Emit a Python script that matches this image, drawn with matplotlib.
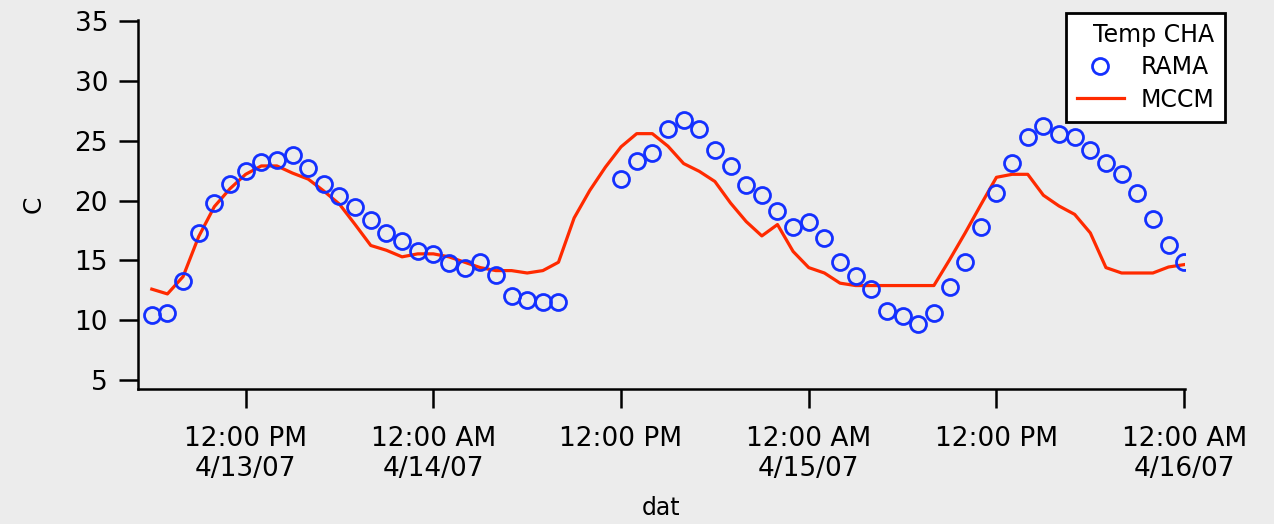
import numpy as np
import pandas as pd
import matplotlib
matplotlib.use("Agg")
import matplotlib.pyplot as plt
import matplotlib.dates as mdates
from matplotlib.lines import Line2D

# hourly timestamps, 4/13/07 06:00 to 4/16/07 00:00
times = pd.date_range("2007-04-13 06:00", "2007-04-16 00:00", freq="h")

# RAMA observations (gap from 09:00 to 11:00 on 4/14)
rama = [10.4, 10.6, 13.3, 17.3, 19.8, 21.35, 22.5, 23.2, 23.4, 23.8,
        22.7, 21.4, 20.4, 19.5, 18.4, 17.3, 16.65, 15.75, 15.55, 14.8,
        14.4, 14.85, 13.75, 12.0, 11.7, 11.5, 11.5,
        np.nan, np.nan, np.nan,
        21.8, 23.35, 24.0, 26.0, 26.7, 26.0, 24.25, 22.9, 21.3, 20.45,
        19.1, 17.8, 18.2, 16.9, 14.85, 13.7, 12.65, 10.8, 10.35, 9.7,
        10.6, 12.8, 14.85, 17.8, 20.65, 23.15, 25.35, 26.25, 25.55, 25.35,
        24.25, 23.15, 22.25, 20.65, 18.45, 16.25, 14.85]

# MCCM model
mccm = [12.6, 12.2, 13.65, 17.0, 19.5, 21.0, 22.2, 22.9, 22.9, 22.3,
        21.8, 20.8, 19.7, 18.0, 16.25, 15.85, 15.3, 15.55, 15.55, 15.3,
        14.85, 14.4, 14.15, 14.15, 13.95, 14.15, 14.85, 18.55, 20.85, 22.8,
        24.5, 25.6, 25.6, 24.55, 23.1, 22.45, 21.6, 19.8, 18.25, 17.05,
        18.0, 15.75, 14.4, 13.95, 13.1, 12.9, 12.9, 12.9, 12.9, 12.9,
        12.9, 15.05, 17.3, 19.65, 21.95, 22.2, 22.2, 20.45, 19.55, 18.85,
        17.3, 14.4, 13.95, 13.95, 13.95, 14.45, 14.65]

tick_times = pd.date_range("2007-04-13 12:00", "2007-04-16 00:00", freq="12h")
tick_labels = ["12:00 PM\n4/13/07", "12:00 AM\n4/14/07", "12:00 PM",
               "12:00 AM\n4/15/07", "12:00 PM", "12:00 AM\n4/16/07"]
y_ticks = [5, 10, 15, 20, 25, 30, 35]

bg = "#ececec"
blue = "#1430ff"
red = "#ff2a00"

fig = plt.figure(figsize=(12.74, 5.24), dpi=100, facecolor=bg)
ax = fig.add_axes([0.1083, 0.2576, 0.8218, 0.7042])
ax.set_facecolor(bg)

ax.plot(times, mccm, color=red, lw=2.3, zorder=2)
ax.plot(times, rama, ls="none", marker="o", ms=11.5, mfc="none",
        mec=blue, mew=2.0, zorder=3)

ax.set_xlim(pd.Timestamp("2007-04-13 05:07"), pd.Timestamp("2007-04-16 00:03"))
ax.set_ylim(4.25, 35.1)
ax.set_yticks(y_ticks)
ax.set_xticks(mdates.date2num(tick_times))
ax.set_xticklabels(tick_labels)

for s in ["top", "right"]:
    ax.spines[s].set_visible(False)
for s in ["left", "bottom"]:
    ax.spines[s].set_linewidth(1.8)

ax.tick_params(axis="both", direction="out", length=13.5, width=1.8,
               labelsize=19, colors="black")
ax.tick_params(axis="y", pad=8)
ax.tick_params(axis="x", pad=13)

ax.set_ylabel("C", fontsize=18, labelpad=21)
ax.set_xlabel("dat", fontsize=17, labelpad=10)

handles = [Line2D([], [], ls="none", marker="o", ms=11.5, mfc="none",
                  mec=blue, mew=2.0),
           Line2D([], [], color=red, lw=2.3)]
leg = fig.legend(handles, ["RAMA", "MCCM"], title="Temp CHA",
                 loc="upper right", bbox_to_anchor=(0.9615, 0.976),
                 fontsize=17, title_fontsize=17, alignment="right",
                 fancybox=False, framealpha=1, edgecolor="black",
                 handlelength=2.0, handletextpad=0.7, borderpad=0.45,
                 labelspacing=0.35, borderaxespad=0)
leg.get_frame().set_linewidth(2.0)
leg.get_frame().set_facecolor("white")

fig.savefig("out.png", dpi=100, facecolor=bg)
